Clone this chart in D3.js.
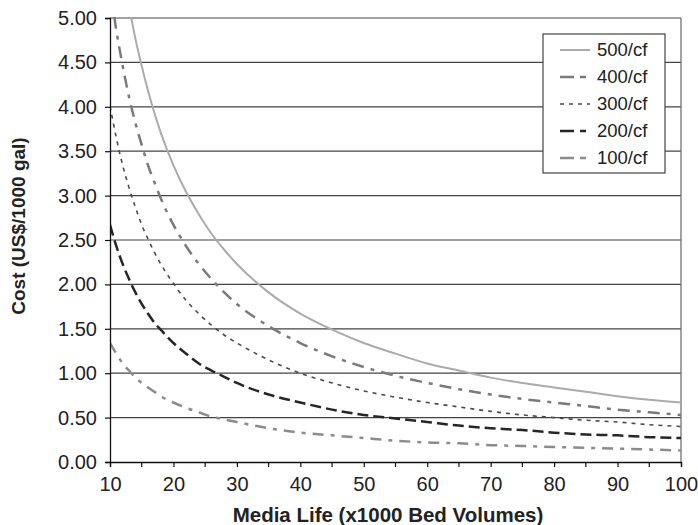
<!DOCTYPE html>
<html>
<head>
<meta charset="utf-8">
<script src="https://cdn.jsdelivr.net/npm/d3@7"></script>
<style>
  html, body { margin: 0; padding: 0; background: #fff; }
  svg { display: block; font-family: "Liberation Sans", Arial, Helvetica, sans-serif; }
</style>
</head>
<body>
<svg id="chart" width="698" height="525"></svg>
<script>
// Media life in thousands of bed volumes
const mediaLife = [10, 11, 12, 13, 14, 15, 16, 17, 18, 20, 22, 24, 26, 28, 30, 35, 40, 45, 50, 55, 60, 65, 70, 75, 80, 85, 90, 95, 100];

// Treatment cost (US$/1000 gal) for each media price
const cost500 = [6.68, 6.08, 5.57, 5.14, 4.77, 4.46, 4.18, 3.93, 3.71, 3.34, 3.04, 2.79, 2.57, 2.39, 2.23, 1.91, 1.67, 1.49, 1.34, 1.22, 1.11, 1.03, 0.95, 0.89, 0.84, 0.79, 0.74, 0.70, 0.67];
const cost400 = [5.35, 4.86, 4.46, 4.11, 3.82, 3.57, 3.34, 3.15, 2.97, 2.67, 2.43, 2.23, 2.06, 1.91, 1.78, 1.53, 1.34, 1.19, 1.07, 0.97, 0.89, 0.82, 0.76, 0.71, 0.67, 0.63, 0.59, 0.56, 0.53];
const cost300 = [4.01, 3.65, 3.34, 3.09, 2.87, 2.67, 2.51, 2.36, 2.23, 2.01, 1.82, 1.67, 1.54, 1.43, 1.34, 1.15, 1.00, 0.89, 0.80, 0.73, 0.67, 0.62, 0.57, 0.53, 0.50, 0.47, 0.45, 0.42, 0.40];
const cost200 = [2.67, 2.43, 2.23, 2.06, 1.91, 1.78, 1.67, 1.57, 1.49, 1.34, 1.22, 1.11, 1.03, 0.96, 0.89, 0.76, 0.67, 0.59, 0.53, 0.49, 0.45, 0.41, 0.38, 0.36, 0.33, 0.31, 0.30, 0.28, 0.27];
const cost100 = [1.34, 1.22, 1.11, 1.03, 0.95, 0.89, 0.84, 0.79, 0.74, 0.67, 0.61, 0.56, 0.51, 0.48, 0.45, 0.38, 0.33, 0.30, 0.27, 0.24, 0.22, 0.21, 0.19, 0.18, 0.17, 0.16, 0.15, 0.14, 0.13];

const seriesNames = ["500/cf", "400/cf", "300/cf", "200/cf", "100/cf"];
const seriesValues = [cost500, cost400, cost300, cost200, cost100];

const xTicks = [10, 20, 30, 40, 50, 60, 70, 80, 90, 100];
const xMinorTicks = [15, 25, 35, 45, 55, 65, 75, 85, 95];
const yTicks = [0, 0.5, 1, 1.5, 2, 2.5, 3, 3.5, 4, 4.5, 5];

// Line styles per series
const styles = [
  { stroke: "#ababab", width: 2,   dash: null },
  { stroke: "#7a7a7a", width: 2.5, dash: "12,7,4,7" },
  { stroke: "#4a4a4a", width: 1.6, dash: "4,5" },
  { stroke: "#262626", width: 2.5, dash: "11,5" },
  { stroke: "#8c8c8c", width: 2.5, dash: "11,7,4,7" }
];

const svg = d3.select("#chart");
const margin = { left: 110, right: 17, top: 18, bottom: 63 };
const W = 698, H = 525;

const x = d3.scaleLinear().domain([10, 100]).range([margin.left, W - margin.right]);
const y = d3.scaleLinear().domain([0, 5]).range([H - margin.bottom, margin.top]);

// Plot area clip
svg.append("clipPath").attr("id", "plotClip")
  .append("rect")
  .attr("x", x(10)).attr("y", y(5) - 1)
  .attr("width", x(100) - x(10)).attr("height", y(0) - y(5) + 1);

// Horizontal gridlines
svg.append("g")
  .selectAll("line")
  .data(yTicks.filter(d => d > 0))
  .join("line")
  .attr("x1", x(10)).attr("x2", x(100))
  .attr("y1", d => y(d)).attr("y2", d => y(d))
  .attr("stroke", "#444").attr("stroke-width", 1.2);

// Right border
svg.append("line")
  .attr("x1", x(100)).attr("x2", x(100))
  .attr("y1", y(5)).attr("y2", y(0))
  .attr("stroke", "#666").attr("stroke-width", 1.2);

// Curves
const line = d3.line()
  .x(d => x(d[0]))
  .y(d => y(d[1]))
  .curve(d3.curveMonotoneX);

const curves = svg.append("g").attr("clip-path", "url(#plotClip)");
seriesValues.forEach((vals, i) => {
  const pts = mediaLife.map((m, j) => [m, vals[j]]);
  curves.append("path")
    .datum(pts)
    .attr("d", line)
    .attr("fill", "none")
    .attr("stroke", styles[i].stroke)
    .attr("stroke-width", styles[i].width)
    .attr("stroke-dasharray", styles[i].dash);
});

// Y axis
const yAxis = svg.append("g")
  .attr("transform", `translate(${x(10)},0)`)
  .call(d3.axisLeft(y).tickValues(yTicks).tickFormat(d3.format(".2f")).tickSize(5).tickPadding(8));
yAxis.select(".domain").attr("stroke", "#111").attr("stroke-width", 1.3);
yAxis.selectAll(".tick line").attr("stroke", "#111").attr("stroke-width", 1.2);
yAxis.selectAll("text").attr("font-size", 20).attr("fill", "#222")
  .attr("font-family", "'Liberation Sans', Arial, sans-serif");

// X axis
const xAxis = svg.append("g")
  .attr("transform", `translate(0,${y(0)})`)
  .call(d3.axisBottom(x).tickValues(xTicks).tickFormat(d3.format("d")).tickSize(5).tickPadding(10));
xAxis.select(".domain").attr("stroke", "#111").attr("stroke-width", 1.3);
xAxis.selectAll(".tick line").attr("stroke", "#111").attr("stroke-width", 1.2);
xAxis.selectAll("text").attr("font-size", 20).attr("fill", "#222")
  .attr("font-family", "'Liberation Sans', Arial, sans-serif");

// Minor x ticks
svg.append("g")
  .selectAll("line")
  .data(xMinorTicks)
  .join("line")
  .attr("x1", d => x(d)).attr("x2", d => x(d))
  .attr("y1", y(0)).attr("y2", y(0) + 5)
  .attr("stroke", "#111").attr("stroke-width", 1.2);

// Axis titles
svg.append("text")
  .attr("x", 388)
  .attr("y", 522)
  .attr("text-anchor", "middle")
  .attr("font-size", 20.5)
  .attr("font-weight", "bold")
  .attr("fill", "#222")
  .text("Media Life (x1000 Bed Volumes)");

svg.append("text")
  .attr("transform", `translate(25,226) rotate(-90)`)
  .attr("text-anchor", "middle")
  .attr("font-size", 19)
  .attr("font-weight", "bold")
  .attr("fill", "#222")
  .text("Cost (US$/1000 gal)");

// Legend
const legend = svg.append("g").attr("transform", "translate(543,34)");
legend.append("rect")
  .attr("width", 122).attr("height", 139)
  .attr("fill", "#fff").attr("stroke", "#444").attr("stroke-width", 1.2);

seriesNames.forEach((name, i) => {
  const ly = 16 + i * 27;
  legend.append("line")
    .attr("x1", 17).attr("x2", 47)
    .attr("y1", ly).attr("y2", ly)
    .attr("stroke", styles[i].stroke)
    .attr("stroke-width", styles[i].width)
    .attr("stroke-dasharray", i === 0 ? null : (i === 2 ? "4,5" : "14,6,6,6"));
  legend.append("text")
    .attr("x", 54).attr("y", ly)
    .attr("dy", "0.35em")
    .attr("font-size", 18.5)
    .attr("fill", "#222")
    .text(name);
});
</script>
</body>
</html>
